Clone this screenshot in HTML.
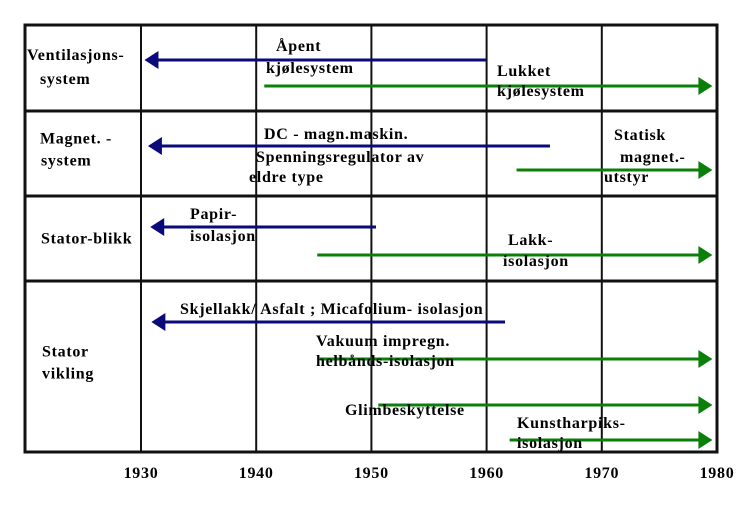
<!DOCTYPE html>
<html><head><meta charset="utf-8"><style>
body{margin:0;background:#fff;}
svg{display:block;font-family:"Liberation Serif",serif;font-weight:bold;font-size:16px;letter-spacing:0.7px;}
</style></head><body>
<svg id="c" width="749" height="509"></svg>
<script>
const years=[1930,1940,1950,1960,1970,1980];
const rowBounds=[25,111,196,281,452];
const rowLabels=[["Ventilasjons-","system"],["Magnet. -","system"],["Stator-blikk"],["Stator","vikling"]];
const arrowStart=[1960,1940.7,1965.5,1962.6,1950.4,1945.3,1961.6,1945.5,1950.6,1962.0];
const arrowEnd=[1930.3,1979.6,1930.6,1979.6,1930.8,1979.6,1930.9,1979.6,1979.6,1979.6];
const arrowY=[60,86,146,170,227,255,322,359,405,440];
const arrowKind=["old","new","old","new","old","new","old","new","new","new"];
const labels=[
 ["Åpent",276,51],["kjølesystem",266,73],["Lukket",497,76],["kjølesystem",497,96],
 ["DC - magn.maskin.",264,139],["Spenningsregulator av",256,162],["eldre type",249,182],
 ["Statisk",614,140],["magnet.-",620,162],["utstyr",604,182],
 ["Papir-",190,219],["isolasjon",190,241],["Lakk-",508,245],["isolasjon",503,266],
 ["Skjellakk/ Asfalt ; Micafolium- isolasjon",180,314],["Vakuum impregn.",316,346],
 ["helbånds-isolasjon",316,366],["Glimbeskyttelse",345,415],["Kunstharpiks-",517,428],["isolasjon",517,448]];
const NS="http://www.w3.org/2000/svg";
const svg=document.getElementById('c');
const x=y=>141+(y-1930)*(717-141)/50;
function mk(t,a){const e=document.createElementNS(NS,t);for(const k in a)e.setAttribute(k,a[k]);svg.appendChild(e);return e;}
years.forEach((yr,i)=>{
 const l=mk('line',{x1:x(yr),x2:x(yr),y1:25,y2:452,stroke:'#111','stroke-width':2});
 
 
 const t=mk('text',{x:x(yr),y:478,'text-anchor':'middle'});t.textContent=yr;
 
 
});
rowBounds.forEach((b,i)=>{
 const l=mk('line',{x1:25,x2:717,y1:b,y2:b,stroke:'#111','stroke-width':3});
 
 
});
const f=mk('rect',{x:25,y:25,width:692,height:427,fill:'none',stroke:'#111','stroke-width':3});


rowLabels.forEach((ls,i)=>{
 const mid=(rowBounds[i]+rowBounds[i+1])/2;
 const pos=[[[27,-8],[40,16]],[[40,-10],[41,12]],[[41,5]],[[42,-10],[42,12]]][i];
 ls.forEach((s,j)=>{const t=mk('text',{x:pos[j][0],y:mid+pos[j][1]});t.textContent=s;
  
  });
});
arrowStart.forEach((s,i)=>{
 const c=arrowKind[i]=="old"?"#0a0a7a":"#0a7f0a";
 const a=x(s),b=x(arrowEnd[i]),y=arrowY[i],dir=b>a?1:-1;
 const g=mk('g',{});
 
 
 const l=document.createElementNS(NS,'line');
 [['x1',a],['x2',b-dir*12],['y1',y],['y2',y],['stroke',c],['stroke-width',3]].forEach(p=>l.setAttribute(p[0],p[1]));
 g.appendChild(l);
 const p=document.createElementNS(NS,'polygon');
 p.setAttribute('points',`${b},${y} ${b-dir*14},${y-9} ${b-dir*14},${y+9}`);
 p.setAttribute('fill',c);g.appendChild(p);
});
labels.forEach(l=>{const t=mk('text',{x:l[1],y:l[2]});t.textContent=l[0];
 
 });
</script>
</body></html>
